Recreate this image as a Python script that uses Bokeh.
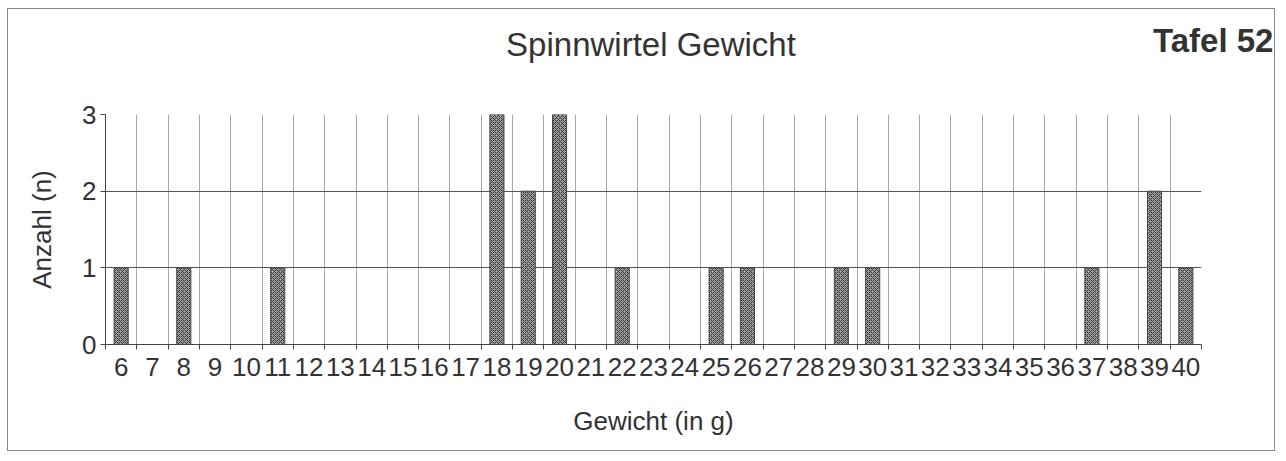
from bokeh.plotting import figure
from bokeh.models import Range1d, FixedTicker, Div
from bokeh.embed import file_html
from bokeh.resources import INLINE

# ---- data ----
weights = list(range(6, 41))
counts = [1, 0, 1, 0, 0, 1, 0, 0, 0, 0, 0, 0, 3, 2, 3, 0, 1, 0, 0, 1,
          1, 0, 0, 1, 1, 0, 0, 0, 0, 0, 0, 1, 0, 2, 1]
tick_labels = [str(w) for w in weights]
title_text = "Spinnwirtel Gewicht"
plate_text = "Tafel 52"
x_label = "Gewicht (in g)"
y_label = "Anzahl (n)"

FONT = "Liberation Sans"

p = figure(width=1268, height=443, output_backend="svg", toolbar_location=None,
           x_range=Range1d(weights[0] - 0.5, weights[-1] + 0.5),
           y_range=Range1d(0, 3),
           min_border_left=97, min_border_right=75, min_border_top=105,
           min_border_bottom=108)
p.styles = {"border": "1px solid #888", "margin": "8px 0px 0px 7px"}
p.outline_line_color = None
p.background_fill_color = "white"
p.border_fill_color = "white"

p.vbar(x=weights, top=counts, width=0.45, bottom=0,
       fill_color="#a0a0a0", line_color="#444444", line_width=1,
       hatch_pattern="x", hatch_scale=4, hatch_color="#333333", hatch_weight=1)

# x axis
bounds = [w - 0.5 for w in weights] + [weights[-1] + 0.5]
p.xaxis.ticker = FixedTicker(ticks=weights, minor_ticks=bounds)
p.xaxis.major_label_overrides = {w: t for w, t in zip(weights, tick_labels)}
p.xaxis.major_tick_out = 0
p.xaxis.major_tick_in = 0
p.xaxis.minor_tick_out = 5
p.xaxis.minor_tick_in = 0
p.xaxis.minor_tick_line_color = "#444444"
p.xaxis.axis_line_color = "#444444"
p.xaxis.major_label_text_font = FONT
p.xaxis.major_label_text_font_size = "26px"
p.xaxis.major_label_text_color = "#333333"
p.xaxis.major_label_standoff = 8
p.xaxis.axis_label = x_label
p.xaxis.axis_label_text_font = FONT
p.xaxis.axis_label_text_font_size = "26px"
p.xaxis.axis_label_text_font_style = "normal"
p.xaxis.axis_label_text_color = "#333333"
p.xaxis.axis_label_standoff = 27

# y axis
p.yaxis.ticker = FixedTicker(ticks=[0, 1, 2, 3])
p.yaxis.major_tick_out = 5
p.yaxis.major_tick_in = 0
p.yaxis.minor_tick_line_color = None
p.yaxis.axis_line_color = "#444444"
p.yaxis.major_tick_line_color = "#444444"
p.yaxis.major_label_text_font = FONT
p.yaxis.major_label_text_font_size = "26px"
p.yaxis.major_label_text_color = "#333333"
p.yaxis.major_label_standoff = 4
p.yaxis.axis_label = y_label
p.yaxis.axis_label_text_font = FONT
p.yaxis.axis_label_text_font_size = "26px"
p.yaxis.axis_label_text_font_style = "normal"
p.yaxis.axis_label_text_color = "#333333"
p.yaxis.axis_label_standoff = 22

# grids
p.xgrid.ticker = FixedTicker(ticks=bounds)
p.xgrid.grid_line_color = "#a8a8a8"
p.xgrid.grid_line_width = 1
p.ygrid.ticker = FixedTicker(ticks=[1, 2, 3])
p.ygrid.grid_line_color = "#555555"
p.ygrid.grid_line_width = 1

# headings
heading = Div(text=title_text, styles={
    "position": "absolute", "left": "443px", "top": "12px", "width": "400px",
    "text-align": "center", "font-family": FONT, "font-size": "33px",
    "font-weight": "normal", "color": "#333333", "white-space": "nowrap"})
plate = Div(text=plate_text, styles={
    "position": "absolute", "left": "1145px", "top": "8px",
    "font-family": FONT, "font-size": "33px", "font-weight": "bold",
    "color": "#333333", "white-space": "nowrap"})
p.elements.append(heading)
p.elements.append(plate)

open("out.html", "w").write(file_html(p, INLINE))
